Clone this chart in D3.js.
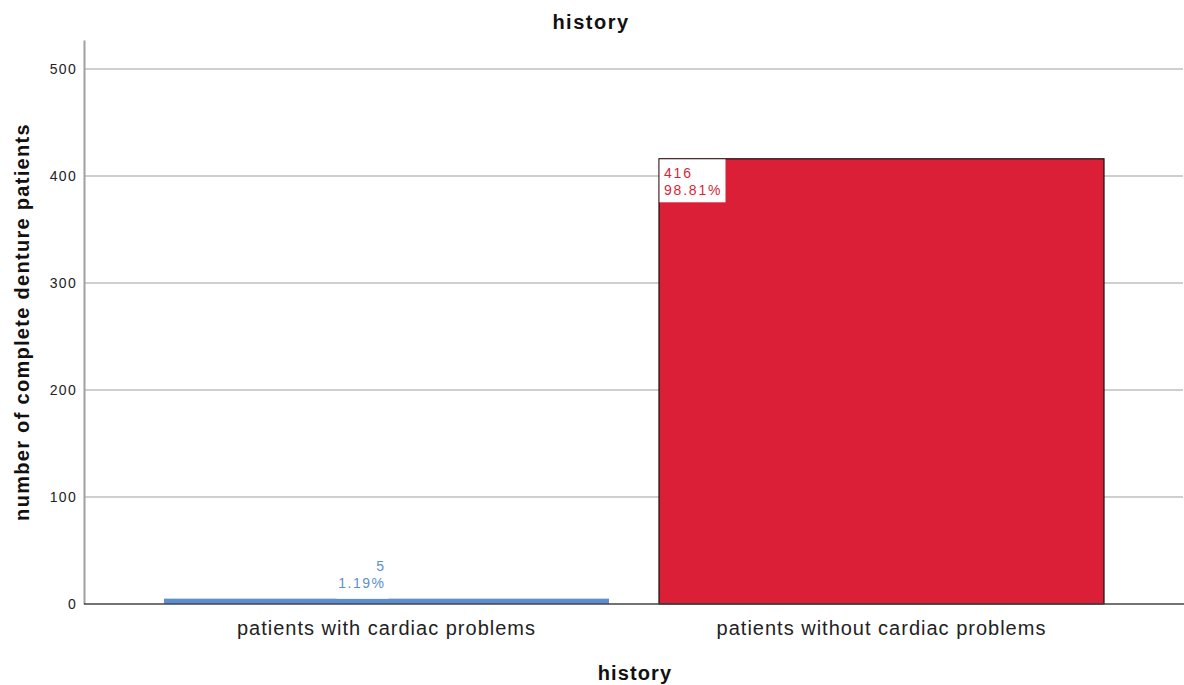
<!DOCTYPE html>
<html>
<head>
<meta charset="utf-8">
<script src="https://cdn.jsdelivr.net/npm/d3@7"></script>
<style>
  body { margin: 0; background: #fff; }
  text { font-family: "Liberation Sans", Arial, sans-serif; }
</style>
</head>
<body>
<div id="chart"></div>
<script>
var categories = ["patients with cardiac problems", "patients without cardiac problems"];
var counts = [5, 416];
var percents = ["1.19%", "98.81%"];
var barColors = ["#5b8fd2", "#da1f36"];
var yTicks = [0, 100, 200, 300, 400, 500];

var width = 1184, height = 685;
var margin = {top: 40, right: 0, bottom: 81, left: 84};
var plotW = width - margin.left - margin.right;
var plotH = height - margin.top - margin.bottom;

var svg = d3.select("#chart").append("svg")
  .attr("width", width)
  .attr("height", height);

var g = svg.append("g")
  .attr("transform", "translate(" + margin.left + "," + margin.top + ")");

var x = d3.scaleBand()
  .domain(categories)
  .range([0, plotW])
  .paddingInner(0.101)
  .paddingOuter(0.1616);

// 500 sits at y=69, 0 at y=604
var y = d3.scaleLinear()
  .domain([0, 527])
  .range([plotH, 0]);

// gridlines
g.selectAll(".grid")
  .data(yTicks.filter(d => d > 0))
  .enter().append("line")
  .attr("x1", 0).attr("x2", plotW - 1)
  .attr("y1", d => y(d)).attr("y2", d => y(d))
  .attr("stroke", "#cfcfcf")
  .attr("stroke-width", 2);

// y axis
var yAxis = g.append("g")
  .call(d3.axisLeft(y).tickValues(yTicks).tickSize(0).tickPadding(7));
yAxis.select(".domain").attr("stroke", "#a0a0a0").attr("stroke-width", 2);
yAxis.selectAll("text")
  .attr("font-size", "14px")
  .attr("fill", "#222")
  .attr("letter-spacing", "1.3px")
  .style("font-family", "'Liberation Sans', Arial, sans-serif");

// bars
g.selectAll(".bar")
  .data(counts)
  .enter().append("rect")
  .attr("class", "bar")
  .attr("x", (d, i) => x(categories[i]))
  .attr("y", d => y(d))
  .attr("width", x.bandwidth())
  .attr("height", d => plotH - y(d))
  .attr("fill", (d, i) => barColors[i])
  .attr("stroke", (d, i) => i === 1 ? "#111" : "none")
  .attr("stroke-width", 1.2);

// baseline
g.append("line")
  .attr("x1", 0).attr("x2", plotW)
  .attr("y1", plotH).attr("y2", plotH)
  .attr("stroke", "#444").attr("stroke-width", 1.5);

// label on small bar (centred above)
var x0 = x(categories[0]) + x.bandwidth() / 2;
g.append("rect")
  .attr("x", x0 - 50).attr("y", y(counts[0]) - 37)
  .attr("width", 52).attr("height", 37)
  .attr("fill", "#fff");
g.append("text")
  .attr("x", x0 - 1).attr("y", y(counts[0]) - 28)
  .attr("text-anchor", "end")
  .attr("font-size", "14px")
  .attr("letter-spacing", "1.5px")
  .attr("fill", barColors[0])
  .text(counts[0]);
g.append("text")
  .attr("x", x0 - 1).attr("y", y(counts[0]) - 11)
  .attr("text-anchor", "end")
  .attr("font-size", "14px")
  .attr("letter-spacing", "1.5px")
  .attr("fill", barColors[0])
  .text(percents[0]);

// label on large bar (top-left inside)
var x1 = x(categories[1]);
g.append("rect")
  .attr("x", x1 + 0.5).attr("y", y(counts[1]) + 0.5)
  .attr("width", 66).attr("height", 43)
  .attr("fill", "#fff");
g.append("text")
  .attr("x", x1 + 5).attr("y", y(counts[1]) + 19)
  .attr("font-size", "14px")
  .attr("letter-spacing", "1.8px")
  .attr("fill", barColors[1])
  .text(counts[1]);
g.append("text")
  .attr("x", x1 + 5).attr("y", y(counts[1]) + 36)
  .attr("font-size", "14px")
  .attr("letter-spacing", "1.8px")
  .attr("fill", barColors[1])
  .text(percents[1]);

// x category labels
g.selectAll(".xlab")
  .data(categories)
  .enter().append("text")
  .attr("x", d => x(d) + x.bandwidth() / 2)
  .attr("y", plotH + 31)
  .attr("text-anchor", "middle")
  .attr("font-size", "20px")
  .attr("letter-spacing", "1px")
  .attr("fill", "#222")
  .text(d => d);

// x title
svg.append("text")
  .attr("x", 635).attr("y", 680)
  .attr("text-anchor", "middle")
  .attr("font-size", "20px")
  .attr("font-weight", "bold")
  .attr("letter-spacing", "1.1px")
  .attr("fill", "#111")
  .text("history");

// y title
svg.append("text")
  .attr("transform", "translate(29," + 322 + ") rotate(-90)")
  .attr("text-anchor", "middle")
  .attr("font-size", "20px")
  .attr("font-weight", "bold")
  .attr("letter-spacing", "1.3px")
  .attr("fill", "#111")
  .text("number of complete denture patients");

// chart title
svg.append("text")
  .attr("x", 591).attr("y", 29)
  .attr("text-anchor", "middle")
  .attr("font-size", "20px")
  .attr("font-weight", "bold")
  .attr("letter-spacing", "1.5px")
  .attr("fill", "#111")
  .text("history");
</script>
</body>
</html>
